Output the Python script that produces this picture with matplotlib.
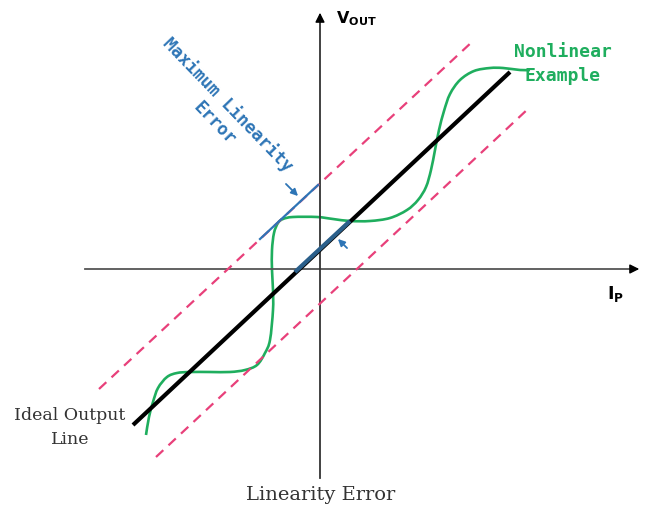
import numpy as np
import matplotlib.pyplot as plt
from matplotlib.path import Path
from matplotlib.patches import PathPatch

# Diagram drawn in pixel space of the original (x right, y down)
green_x = [146, 149, 153, 158, 167, 177, 190, 210, 230, 245, 257, 265, 270, 273, 273,
           272, 272, 274, 278, 283, 293, 317, 333, 350, 370, 390, 407, 418, 426, 431,
           435, 439, 444, 450, 460, 474, 490, 503, 520, 530]
green_y = [435, 417, 402, 388, 377, 373, 372, 372, 372, 370, 365, 353, 340, 310, 290,
           270, 250, 233, 223, 219, 217, 217, 219, 221, 221, 218, 210, 200, 187, 170,
           150, 130, 111, 94, 80, 71, 68, 68, 70, 70]

ideal_x = [133, 510]
ideal_y = [425, 72]
upper_x = [99, 473]
upper_y = [389, 41]
lower_x = [156, 529]
lower_y = [457, 108]
err_upper_x = [260, 318]
err_upper_y = [239, 185]
err_ideal_x = [295, 350]
err_ideal_y = [272, 221]

pink = '#e8407a'
green = '#1fae5e'
blue = '#2e75b6'


def smooth_path(xs, ys):
    # Catmull-Rom through the points, drawn as cubic Bezier segments
    p = np.column_stack([xs, ys]).astype(float)
    verts = [p[0]]
    codes = [Path.MOVETO]
    n = len(p)
    for i in range(n - 1):
        p0 = p[max(i - 1, 0)]
        p1 = p[i]
        p2 = p[i + 1]
        p3 = p[min(i + 2, n - 1)]
        verts += [p1 + (p2 - p0) / 6, p2 - (p3 - p1) / 6, p2]
        codes += [Path.CURVE4] * 3
    return Path(verts, codes)


fig = plt.figure(figsize=(6.56, 5.08), dpi=100)
ax = fig.add_axes([0, 0, 1, 1])
ax.set_xlim(0, 656)
ax.set_ylim(508, 0)
ax.axis('off')

# axes with arrows
ax.plot([85, 632], [269, 269], color='#555555', lw=1.3)
ax.plot([320, 320], [478, 20], color='#333333', lw=1.3)
ax.annotate('', xy=(642, 269), xytext=(628, 269),
            arrowprops=dict(arrowstyle='-|>', color='black', lw=1, mutation_scale=14))
ax.annotate('', xy=(320, 10), xytext=(320, 24),
            arrowprops=dict(arrowstyle='-|>', color='black', lw=1, mutation_scale=14))

# error band
ax.plot(upper_x, upper_y, color=pink, lw=1.6, dashes=(4.5, 3.2))
ax.plot(lower_x, lower_y, color=pink, lw=1.6, dashes=(4.5, 3.2))

# ideal line
ax.plot(ideal_x, ideal_y, color='black', lw=3, solid_capstyle='butt')
ax.plot(err_ideal_x, err_ideal_y, color='#2b5f8a', lw=3, solid_capstyle='butt')
ax.plot(err_upper_x, err_upper_y, color=blue, lw=1.6)

# nonlinear curve
ax.add_patch(PathPatch(smooth_path(green_x, green_y), fill=False,
                       edgecolor=green, lw=1.9))

# arrows for max error
ax.annotate('', xy=(300, 198), xytext=(284, 182),
            arrowprops=dict(arrowstyle='-|>', color=blue, lw=1.3, mutation_scale=10))
ax.annotate('', xy=(336, 237), xytext=(349, 250),
            arrowprops=dict(arrowstyle='-|>', color=blue, lw=1.3, mutation_scale=10))

# labels
ax.text(228, 105, 'Maximum Linearity', color=blue, fontsize=12.5, fontweight='bold',
        family='DejaVu Sans Mono', rotation=-46, rotation_mode='anchor',
        ha='center', va='center')
ax.text(214, 123, 'Error', color=blue, fontsize=12.5, fontweight='bold',
        family='DejaVu Sans Mono', rotation=-46, rotation_mode='anchor',
        ha='center', va='center')
ax.text(563, 52, 'Nonlinear', color=green, fontsize=13, fontweight='bold',
        family='DejaVu Sans Mono', ha='center', va='center')
ax.text(563, 76, 'Example', color=green, fontsize=13, fontweight='bold',
        family='DejaVu Sans Mono', ha='center', va='center')
ax.text(70, 415, 'Ideal Output', color='#333333', fontsize=12.5,
        family='DejaVu Serif', ha='center', va='center')
ax.text(70, 440, 'Line', color='#333333', fontsize=12.5,
        family='DejaVu Serif', ha='center', va='center')
ax.text(321, 495, 'Linearity Error', color='#333333', fontsize=14,
        family='DejaVu Serif', ha='center', va='center')
ax.text(336, 19, r'$\mathbf{V}_{\mathbf{OUT}}$', fontsize=11.5, ha='left', va='center')
ax.text(607, 294, r'$\mathbf{I}_{\mathbf{P}}$', fontsize=12.5, ha='left', va='center')

fig.savefig('out.png', dpi=100)
